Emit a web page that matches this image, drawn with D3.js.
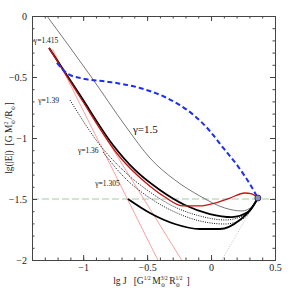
<!DOCTYPE html>
<html>
<head>
<meta charset="utf-8">
<script src="https://cdn.jsdelivr.net/npm/d3@7"></script>
<style>
  body { margin: 0; background: #fff; }
  text { font-family: "Liberation Serif", "DejaVu Serif", serif; }
</style>
</head>
<body>
<div id="chart"></div>
<script>
// curves in (lg J, lg|E|)
const gamma150 = [[-1.283, 0], [-0.947, -0.484], [-0.658, -0.918], [-0.478, -1.164], [-0.283, -1.344],
    [-0.088, -1.475], [0.108, -1.574], [0.241, -1.598], [0.327, -1.557], [0.366, -1.492]];
const gamma1415 = [[-1.267, -0.262], [-1.025, -0.648], [-0.767, -1.057], [-0.595, -1.262], [-0.4, -1.426],
    [-0.205, -1.549], [-0.009, -1.623], [0.163, -1.648], [0.288, -1.607], [0.366, -1.492]];
const redCurve = [[-1.267, -0.262], [-1.025, -0.664], [-0.713, -1.156], [-0.517, -1.361], [-0.361, -1.484],
    [-0.22, -1.557], [-0.088, -1.557], [0.03, -1.533], [0.147, -1.492], [0.264, -1.451], [0.319, -1.459], [0.366, -1.492]];
const gamma139 = [[-1.103, -0.689], [-0.869, -1.057], [-0.673, -1.279], [-0.478, -1.443], [-0.283, -1.566],
    [-0.088, -1.639], [0.108, -1.672], [0.248, -1.639], [0.366, -1.492]];
const gamma136 = [[-0.845, -1.115], [-0.673, -1.328], [-0.478, -1.492], [-0.283, -1.607], [-0.088, -1.68],
    [0.108, -1.705], [0.248, -1.664], [0.366, -1.492]];
const gamma1305 = [[-0.65, -1.5], [-0.478, -1.615], [-0.283, -1.705], [-0.088, -1.746], [0.069, -1.746],
    [0.225, -1.672], [0.319, -1.574], [0.366, -1.492]];
const blueCurve = [[-1.205, -0.385], [-1.119, -0.475], [-0.986, -0.516], [-0.791, -0.541], [-0.556, -0.59],
    [-0.361, -0.664], [-0.244, -0.73], [-0.127, -0.82], [-0.009, -0.943], [0.084, -1.066],
    [0.209, -1.23], [0.303, -1.377], [0.366, -1.492]];
const pink1 = [[-1.24, -0.27], [-0.416, -2]];
const pink2 = [[-1.26, -0.26], [-0.23, -2]];
const greyDots = [[0.084, -2], [0.366, -1.492]];
const levelE = -1.5;
const endPoint = [0.366, -1.492];

const labels = [
    { text: "γ=1.415", x: -1.29, y: -0.22, size: 7.5 },
    { text: "γ=1.39", x: -1.27, y: -0.715, size: 7.5 },
    { text: "γ=1.36", x: -0.96, y: -1.12, size: 7.5 },
    { text: "γ=1.305", x: -0.81, y: -1.39, size: 7.5 },
    { text: "γ=1.5", x: -0.611, y: -0.96, size: 11, anchor: "start" }
];

const xMajor = [-1, -0.5, 0, 0.5];
const yMajor = [0, -0.5, -1, -1.5, -2];

const width = 291;
const height = 291;
const marginTop = 16;
const marginRight = 16;
const marginBottom = 31;
const marginLeft = 32;

const svg = d3.select("#chart")
    .append("svg")
    .attr("width", width)
    .attr("height", height);

const x = d3.scaleLinear().domain([-1.4, 0.5]).range([marginLeft, width - marginRight]);
const y = d3.scaleLinear().domain([-2, 0]).range([height - marginBottom, marginTop]);

const fmt = d => d === 0 ? "0" : (d < 0 ? "\u2212" : "") + Math.abs(d);
const xMinor = d3.range(-14, 6).map(d => d / 10);
const yMinor = d3.range(-20, 1).map(d => d / 10);

const line = d3.line()
    .x(d => x(d[0]))
    .y(d => y(d[1]))
    .curve(d3.curveMonotoneX);

const plot = svg.append("g");

plot.append("line")
    .attr("x1", x(-1.4)).attr("x2", x(0.5))
    .attr("y1", y(levelE)).attr("y2", y(levelE))
    .attr("stroke", "#9fbf9f").attr("stroke-width", 0.9)
    .attr("stroke-dasharray", "7,3");

plot.append("path").datum(greyDots)
    .attr("fill", "none").attr("stroke", "#999").attr("stroke-width", 0.6)
    .attr("stroke-dasharray", "1,1.5").attr("d", line);

plot.append("path").datum(pink1)
    .attr("fill", "none").attr("stroke", "#f08a8a").attr("stroke-width", 0.8).attr("d", line);
plot.append("path").datum(pink2)
    .attr("fill", "none").attr("stroke", "#f08a8a").attr("stroke-width", 0.8).attr("d", line);

plot.append("path").datum(gamma150)
    .attr("fill", "none").attr("stroke", "#555").attr("stroke-width", 0.8).attr("d", line);

plot.append("path").datum(gamma139)
    .attr("fill", "none").attr("stroke", "#111").attr("stroke-width", 1)
    .attr("stroke-dasharray", "1,1.3").attr("d", line);
plot.append("path").datum(gamma136)
    .attr("fill", "none").attr("stroke", "#111").attr("stroke-width", 1)
    .attr("stroke-dasharray", "1,1.3").attr("d", line);

plot.append("path").datum(gamma1415)
    .attr("fill", "none").attr("stroke", "#000").attr("stroke-width", 1.8).attr("d", line);
plot.append("path").datum(gamma1305)
    .attr("fill", "none").attr("stroke", "#000").attr("stroke-width", 1.8).attr("d", line);

plot.append("path").datum(redCurve)
    .attr("fill", "none").attr("stroke", "#c81414").attr("stroke-width", 1.3).attr("d", line);

plot.append("path").datum(blueCurve)
    .attr("fill", "none").attr("stroke", "#1e2ef0").attr("stroke-width", 2)
    .attr("stroke-dasharray", "5,3").attr("d", line);

plot.append("circle")
    .attr("cx", x(endPoint[0])).attr("cy", y(endPoint[1])).attr("r", 3)
    .attr("fill", "#8a8fc0").attr("stroke", "#334").attr("stroke-width", 1);

plot.selectAll(".glab")
    .data(labels)
    .join("text")
    .attr("x", d => x(d.x))
    .attr("y", d => y(d.y))
    .attr("font-size", d => d.size)
    .attr("text-anchor", d => d.anchor || "middle")
    .attr("fill", "#111")
    .text(d => d.text);

// axes, ticks inward on all four sides
const axisColor = "#444";
function styleAxis(g) {
    g.select(".domain").attr("stroke", axisColor);
    g.selectAll(".tick line").attr("stroke", axisColor);
    g.selectAll("text").attr("font-family", "Liberation Serif, serif").attr("font-size", 10).attr("fill", "#222");
}

svg.append("g")
    .attr("transform", `translate(0,${height - marginBottom})`)
    .call(d3.axisBottom(x).tickValues(xMinor).tickSize(-2.5).tickFormat("").tickSizeOuter(0))
    .call(styleAxis);
svg.append("g")
    .attr("transform", `translate(0,${height - marginBottom})`)
    .call(d3.axisBottom(x).tickValues(xMajor).tickSize(-5).tickPadding(4).tickFormat(fmt).tickSizeOuter(0))
    .call(styleAxis);
svg.append("g")
    .attr("transform", `translate(0,${marginTop})`)
    .call(d3.axisTop(x).tickValues(xMinor).tickSize(-2.5).tickFormat("").tickSizeOuter(0))
    .call(styleAxis);
svg.append("g")
    .attr("transform", `translate(0,${marginTop})`)
    .call(d3.axisTop(x).tickValues(xMajor).tickSize(-5).tickFormat("").tickSizeOuter(0))
    .call(styleAxis);

svg.append("g")
    .attr("transform", `translate(${marginLeft},0)`)
    .call(d3.axisLeft(y).tickValues(yMinor).tickSize(-2.5).tickFormat("").tickSizeOuter(0))
    .call(styleAxis);
svg.append("g")
    .attr("transform", `translate(${marginLeft},0)`)
    .call(d3.axisLeft(y).tickValues(yMajor).tickSize(-5).tickPadding(5).tickFormat(fmt).tickSizeOuter(0))
    .call(styleAxis);
svg.append("g")
    .attr("transform", `translate(${width - marginRight},0)`)
    .call(d3.axisRight(y).tickValues(yMinor).tickSize(-2.5).tickFormat("").tickSizeOuter(0))
    .call(styleAxis);
svg.append("g")
    .attr("transform", `translate(${width - marginRight},0)`)
    .call(d3.axisRight(y).tickValues(yMajor).tickSize(-5).tickFormat("").tickSizeOuter(0))
    .call(styleAxis);

// axis titles: pieces placed one after another, super/subscripts stacked
function titlePieces(g, pieces) {
    let cx = 0;
    pieces.forEach(p => {
        const t = g.append("text")
            .attr("x", cx).attr("y", p.dy || 0)
            .attr("font-size", p.size || 9.5)
            .attr("fill", "#222")
            .text(p.text);
        const w = t.node().getComputedTextLength();
        if (!p.stack) cx += w + (p.gap || 0);
    });
    return cx;
}

const xTitle = svg.append("g");
const xw = titlePieces(xTitle, [
    { text: "lg J", gap: 7 },
    { text: "[G" },
    { text: "1/2", size: 5.5, dy: -4, gap: 1.5 },
    { text: "M" },
    { text: "\u2299", size: 5.5, dy: 3, stack: true },
    { text: "3/2", size: 5.5, dy: -4, gap: 1.5 },
    { text: "R" },
    { text: "\u2299", size: 5.5, dy: 3, stack: true },
    { text: "1/2", size: 5.5, dy: -4, gap: 4 },
    { text: "]" }
]);
xTitle.attr("transform", `translate(${(x(-1.4) + x(0.5)) / 2 - xw / 2 - 2},284)`);

const yTitle = svg.append("g");
const yw = titlePieces(yTitle, [
    { text: "lg(|E|)", gap: 5 },
    { text: "[G M" },
    { text: "2", size: 5.5, dy: -4, stack: true },
    { text: "\u2299", size: 5.5, dy: 3, gap: 0.5 },
    { text: "/R" },
    { text: "\u2299", size: 5.5, dy: 3, gap: 0.5 },
    { text: "]" }
]);
yTitle.attr("transform", `translate(12,${(y(0) + y(-2)) / 2 + yw / 2}) rotate(-90)`);
</script>
</body>
</html>
